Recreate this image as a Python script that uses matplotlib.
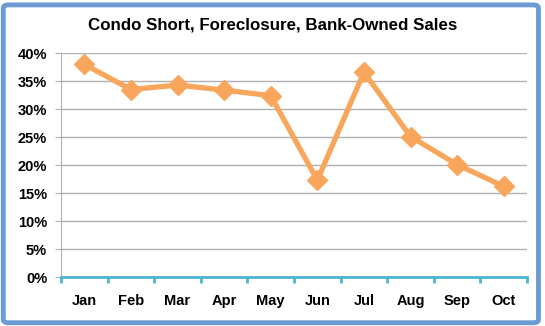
import matplotlib.pyplot as plt
from matplotlib.patches import FancyBboxPatch
from matplotlib.ticker import FuncFormatter, FixedLocator

months = ['Jan', 'Feb', 'Mar', 'Apr', 'May', 'Jun', 'Jul', 'Aug', 'Sep', 'Oct']
share = [38.0, 33.5, 34.3, 33.4, 32.4, 17.3, 36.6, 25.1, 20.1, 16.2]

orange = '#f8a65c'
fig = plt.figure(figsize=(5.45, 3.26), dpi=100)

# rounded blue frame around the whole chart
frame = FancyBboxPatch((0.006, 0.01), 0.982, 0.975, boxstyle='round,pad=0,rounding_size=0.01',
                       transform=fig.transFigure, facecolor='none', edgecolor='#6b9bd2',
                       linewidth=3.5, zorder=10)
fig.patches.append(frame)

ax = fig.add_axes([0.112, 0.150, 0.855, 0.687])
x = list(range(len(months)))
ax.plot(x, share, color=orange, linewidth=3.8, marker='D', markersize=10,
        markerfacecolor=orange, markeredgecolor=orange, solid_joinstyle='round', zorder=4)

ax.set_xlim(-0.5, len(months) - 0.5)
ax.set_ylim(0, 40)
ax.set_yticks(range(0, 41, 5))
ax.yaxis.set_major_formatter(FuncFormatter(lambda v, p: f'{int(v)}%'))
ax.set_xticks(x)
ax.set_xticklabels(months)
ax.xaxis.set_minor_locator(FixedLocator([i - 0.5 for i in range(len(months) + 1)]))

ax.grid(axis='y', color='#b0b0b0', linewidth=1)
ax.set_axisbelow(True)
for s in ['top', 'right']:
    ax.spines[s].set_visible(False)
ax.spines['left'].set_color('#b0b0b0')
ax.spines['bottom'].set_color('#4bb6d3')
ax.spines['bottom'].set_linewidth(2)
ax.spines['bottom'].set_zorder(3)

ax.tick_params(axis='y', length=4, color='#b0b0b0', labelsize=10.5, pad=6)
ax.tick_params(axis='x', which='major', length=0, labelsize=10.5, pad=12)
ax.tick_params(axis='x', which='minor', length=4, width=2, color='#4bb6d3', direction='out')
for lab in ax.get_xticklabels() + ax.get_yticklabels():
    lab.set_fontweight('bold')
    lab.set_family('Liberation Sans')

fig.text(0.5, 0.922, 'Condo Short, Foreclosure, Bank-Owned Sales', ha='center', va='center',
         fontsize=12.2, fontweight='bold', family='Liberation Sans')

fig.savefig('out.png', dpi=100)
